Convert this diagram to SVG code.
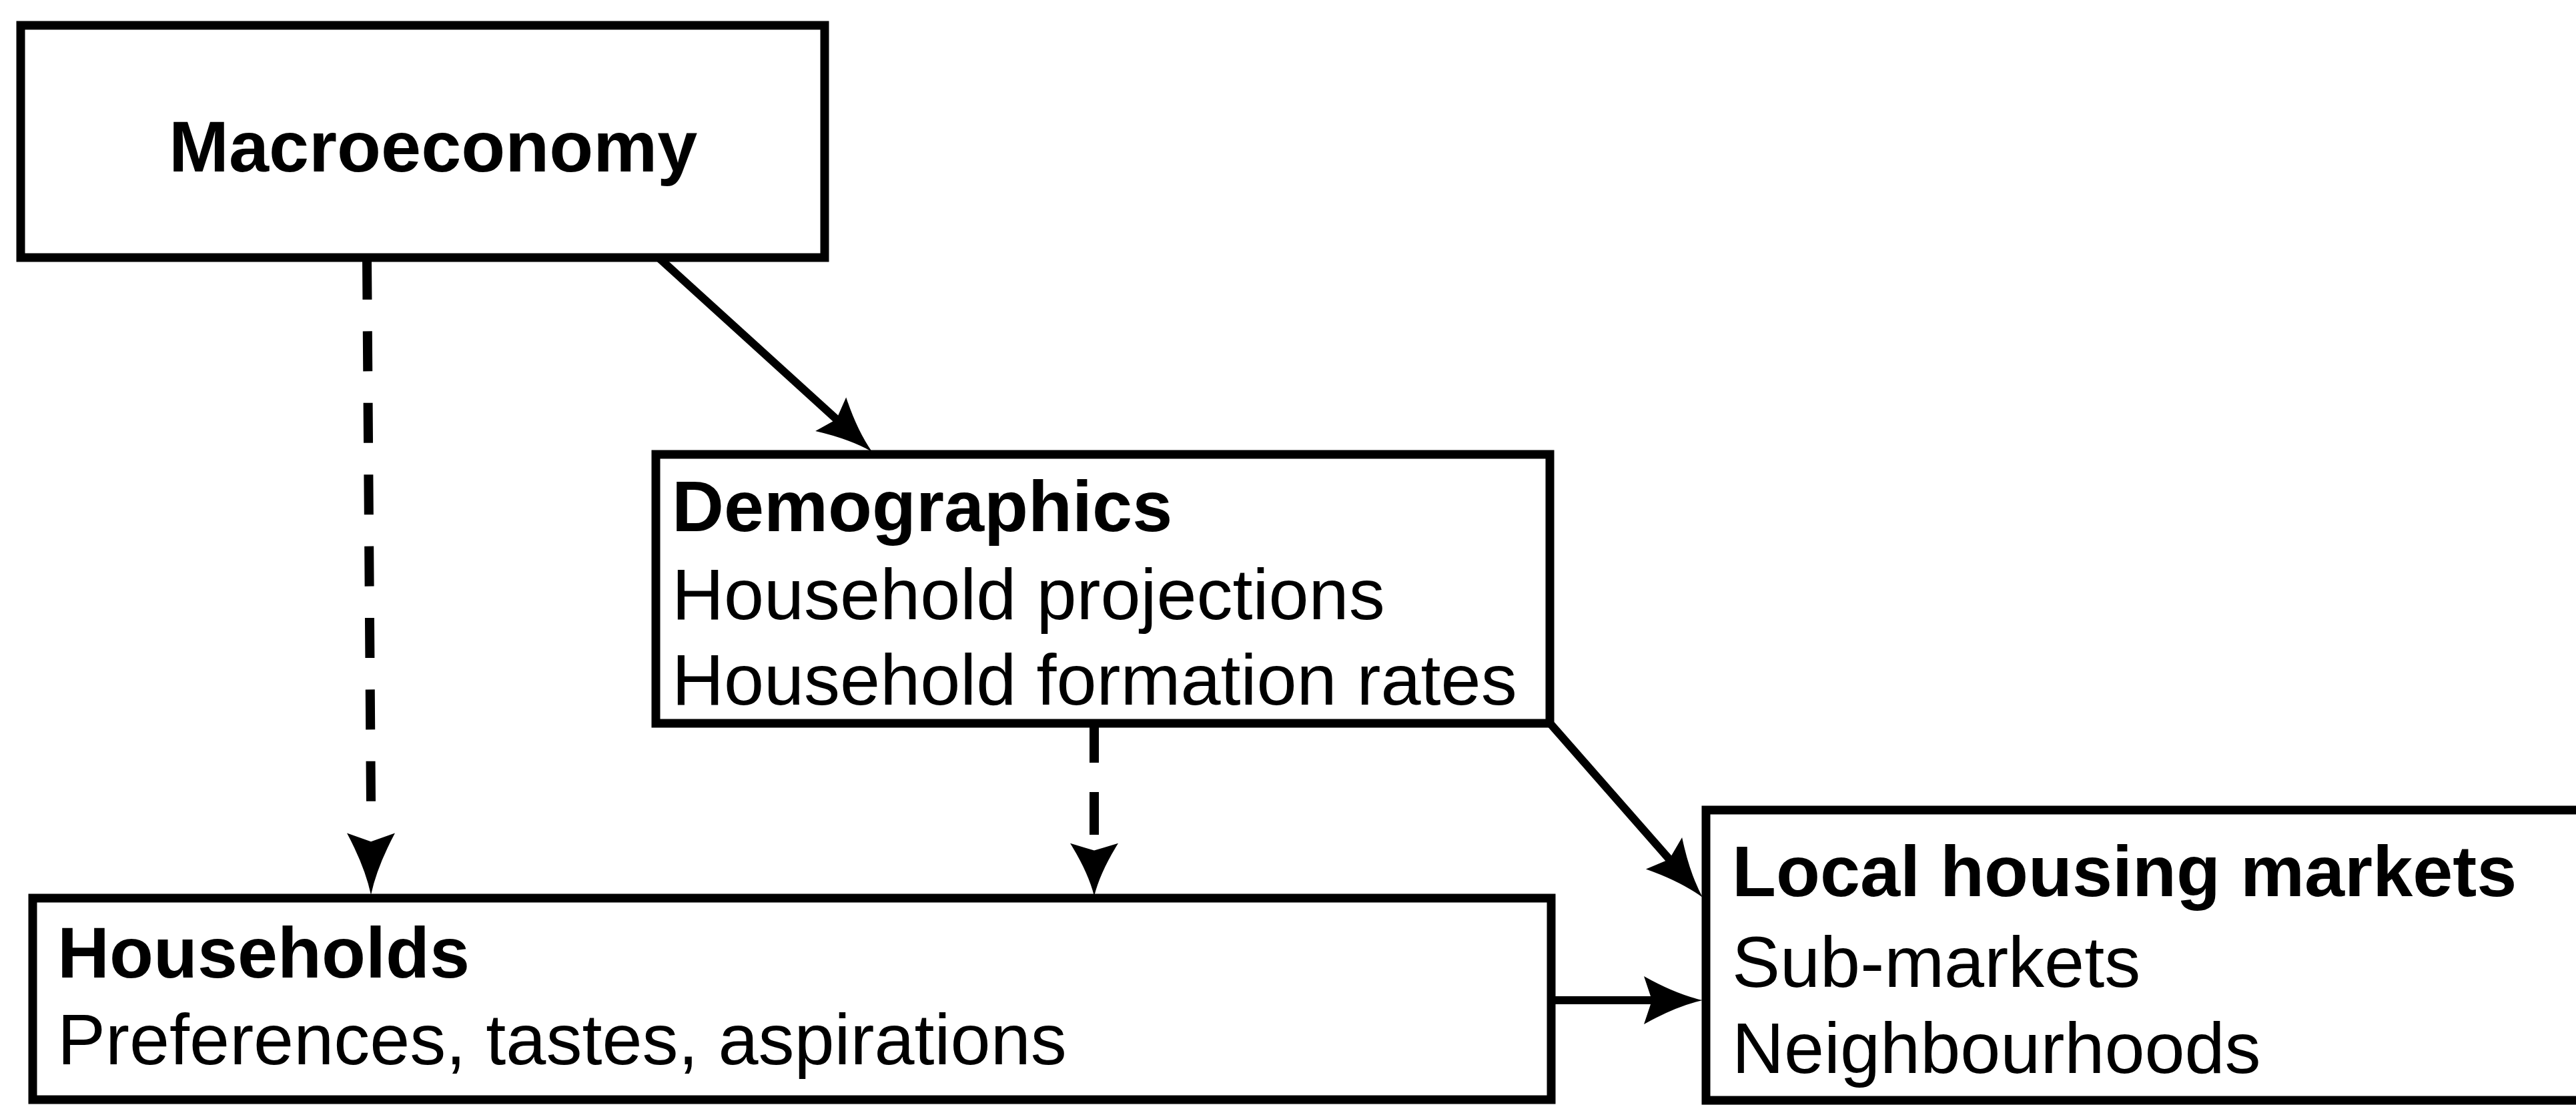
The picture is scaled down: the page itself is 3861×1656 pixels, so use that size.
<svg xmlns="http://www.w3.org/2000/svg" xmlns:xlink="http://www.w3.org/1999/xlink" width="3861" height="1656" viewBox="0 0 3861 1656">
  <style>
    .box { fill: #ffffff; stroke: #000000; stroke-width: 13; }
    .t { font-family: "Liberation Sans", Arial, Helvetica, sans-serif; font-size: 108px; fill: #000000; }
    .b { font-weight: bold; }
    .line { stroke: #000000; stroke-width: 12; fill: none; }
    .dash { stroke: #000000; stroke-width: 14; fill: none; stroke-dasharray: 60 47.4; }
    .head { fill: #000000; stroke: none; }
  </style>
  <defs>
    <path id="ah" d="M0,0 Q-40,9 -88,36 L-76,0 L-88,-36 Q-40,-9 0,0 Z"/>
  </defs>
  <rect width="3861" height="1656" fill="#ffffff"/>

  <g id="node-macroeconomy">
    <rect class="box" x="31" y="38" width="1205" height="348"/>
    <text class="t b" x="253" y="257">Macroeconomy</text>
  </g>

  <g id="node-demographics">
    <rect class="box" x="983" y="681" width="1340" height="403"/>
    <text class="t b" x="1007" y="796">Demographics</text>
    <text class="t" x="1007" y="928">Household projections</text>
    <text class="t" x="1007" y="1056">Household formation rates</text>
  </g>

  <g id="node-households">
    <rect class="box" x="49" y="1346" width="2276" height="302"/>
    <text class="t b" x="86" y="1465">Households</text>
    <text class="t" x="86" y="1595">Preferences, tastes, aspirations</text>
  </g>

  <g id="node-local-housing-markets">
    <rect class="box" x="2557" y="1214" width="1400" height="435"/>
    <text class="t b" x="2596" y="1343">Local housing markets</text>
    <text class="t" x="2596" y="1479">Sub-markets</text>
    <text class="t" x="2596" y="1608">Neighbourhoods</text>
  </g>

  <g id="connectors">
    <!-- Macroeconomy -> Households (dashed) -->
    <line class="dash" x1="550" y1="389" x2="556" y2="1202"/>
    <use class="head" xlink:href="#ah" href="#ah" transform="translate(556,1341) rotate(90) scale(1.05,1)"/>
    <!-- Macroeconomy -> Demographics -->
    <line class="line" x1="987" y1="386" x2="1270" y2="643"/>
    <use class="head" xlink:href="#ah" href="#ah" transform="translate(1307,677) rotate(42.3) scale(0.95)"/>
    <!-- Demographics -> Households (dashed) -->
    <line class="dash" style="stroke-dasharray: 57 44 64 100" x1="1640" y1="1086" x2="1640" y2="1251"/>
    <use class="head" xlink:href="#ah" href="#ah" transform="translate(1640,1343) rotate(90) scale(0.9,1)"/>
    <!-- Demographics -> Local housing markets -->
    <line class="line" x1="2325" y1="1086" x2="2519" y2="1307"/>
    <use class="head" xlink:href="#ah" href="#ah" transform="translate(2552,1345) rotate(48.8)"/>
    <!-- Households -> Local housing markets -->
    <line class="line" x1="2325" y1="1499" x2="2500" y2="1499"/>
    <use class="head" xlink:href="#ah" href="#ah" transform="translate(2552,1499)"/>
  </g>
</svg>
